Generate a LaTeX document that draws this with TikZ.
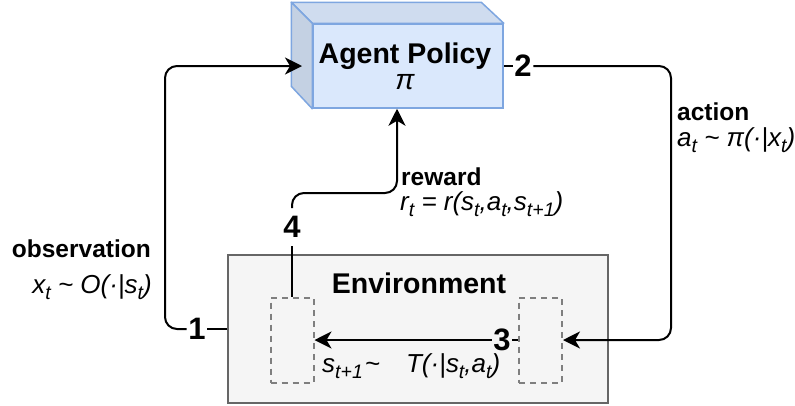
\documentclass[tikz,border=0pt]{standalone}
\usepackage{fontspec}
\setmainfont{Liberation Sans}
\usetikzlibrary{arrows.meta,calc}
\definecolor{agentfill}{HTML}{DAE8FC}
\definecolor{agentdraw}{HTML}{7EA6E0}
\definecolor{agenttop}{HTML}{CFDCEF}
\definecolor{agentside}{HTML}{C4D1E3}
\definecolor{envfill}{HTML}{F5F5F5}
\definecolor{envdraw}{HTML}{666666}
\definecolor{dashgray}{HTML}{7F7F7F}
\newcommand\sbs[1]{\raisebox{-6pt}{\fontsize{19.5}{20}\selectfont #1}}
\begin{document}
\begin{tikzpicture}[x=1pt,y=-1pt,
  conn/.style={line width=2pt, draw=black},
  arr/.style={-{Stealth[length=17pt,width=17pt,inset=5pt]}},
  num/.style={font=\fontsize{31}{36}\selectfont\bfseries, inner sep=1.5pt},
  lbl/.style={font=\fontsize{24.5}{29}\selectfont\bfseries, inner sep=0pt},
  frm/.style={font=\fontsize{26}{31}\selectfont\itshape, inner sep=0pt},
  title/.style={font=\fontsize{28.5}{34}\selectfont\bfseries, inner sep=0pt, anchor=base},
  dashbox/.style={draw=dashgray, line width=2pt, dash pattern=on 6pt off 5pt,
    minimum width=43pt, minimum height=85pt, inner sep=0pt}
]
\useasboundingbox (0,0) rectangle (795,405);

% environment
\node[draw=envdraw, fill=envfill, line width=1.5pt, minimum width=380pt,
  minimum height=148pt, inner sep=0pt] (env) at (418,329) {};
\node[title] (envlbl) at (419,293) {Environment};
\node[dashbox] (sl) at (292,340) {};
\node[dashbox] (sr) at (540.5,340) {};

% agent cube
\node[draw=agentdraw, fill=agentfill, line width=1.5pt, minimum width=190pt,
  minimum height=84pt, inner sep=0pt] (agent) at (408,66) {};
\filldraw[draw=agentdraw, fill=agenttop, line width=1.5pt, line join=round]
  (agent.north west) -- ++(-21,-21) -- ++(190,0) -- (agent.north east) -- cycle;
\filldraw[draw=agentdraw, fill=agentside, line width=1.5pt, line join=round]
  (agent.north west) -- ++(-21,-21) -- ++(0,84) -- (agent.south west) -- cycle;
\node[title] (agentlbl) at (405,63) {Agent Policy};
\node[title, font=\fontsize{28.5}{34}\selectfont\itshape] (pilbl) at (405,89) {π};

% numbers
\node[num] (n1) at (197,329) {1};
\node[num] (n2) at (523,66) {2};
\node[num] (n3) at (502,340) {3};
\node[num, inner ysep=8pt] (n4) at (292,227) {4};

\coordinate (obsin) at (302,66);
\coordinate (rwin) at (agent.south -| 397,0);

% connectors
\draw[conn] (env.west) -- (n1.east);
\draw[conn,arr,rounded corners=12pt] (n1.west) -| (165,66) -- (obsin);
\draw[conn] (agent.east) -- (n2.west);
\draw[conn,arr,rounded corners=12pt] (n2.east) -| (671,340) -- (sr.east);
\draw[conn] (sr.west) -- (n3.east);
\draw[conn,arr] (n3.west) -- (sl.east);
\draw[conn] (sl.north) -- (n4.south);
\draw[conn,arr,rounded corners=12pt] (n4.north) |- (397,193) -- (rwin);

% labels
\node[lbl, anchor=base east] (obslbl) at (151,257) {observation};
\node[frm, anchor=base east] (obsfrm) at (152,293) {x\sbs{t} \textasciitilde{} O(·|s\sbs{t})};
\node[lbl, anchor=base west] (actlbl) at (677,120) {action};
\node[frm, anchor=base west] (actfrm) at (677,146) {a\sbs{t} \textasciitilde{} π(·|x\sbs{t})};
\node[lbl, anchor=base west] (rewlbl) at (401,185) {reward};
\node[frm, anchor=base west] (rewfrm) at (400,210) {r\sbs{t} = r(s\sbs{t},a\sbs{t},s\sbs{t+1})};
\node[frm, anchor=base west] (trfrm) at (322,372) {s\sbs{t+1}\kern2pt\textasciitilde\hspace{26pt}T(·|s\sbs{t},a\sbs{t})};
\end{tikzpicture}
\end{document}
